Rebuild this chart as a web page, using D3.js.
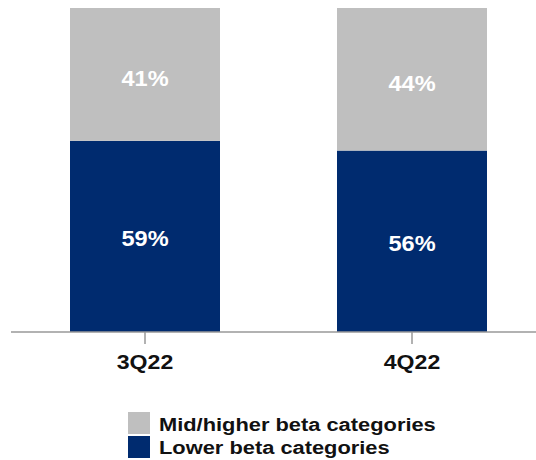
<!DOCTYPE html>
<html>
<head>
<meta charset="UTF-8">
<script src="https://d3js.org/d3.v7.min.js"></script>
<style>
  body { margin: 0; background: #fff; font-family: "Liberation Sans", Arial, sans-serif; }
</style>
</head>
<body>
<svg width="536" height="460"></svg>
<script>
const quarters = ["3Q22", "4Q22"];
const lowerBeta = [59, 56];
const midHigherBeta = [41, 44];
const seriesNames = ["Mid/higher beta categories", "Lower beta categories"];
const colors = { lower: "#002b6f", mid: "#bfbfbf" };

const svg = d3.select("svg");
const x = d3.scalePoint().domain(quarters).range([145, 412]);
const y = d3.scaleLinear().domain([0, 100]).range([332, 8]);
const barW = 150;

// text is a little wider than the font height suggests, so stretch it
function place(sel, tx, ty, sx) {
  return sel.attr("transform", `translate(${tx},${ty}) scale(${sx},1)`);
}

const data = quarters.map((q, i) => ({ q, lower: lowerBeta[i], mid: midHigherBeta[i] }));
const stack = d3.stack().keys(["lower", "mid"])(data);

const g = svg.append("g");
stack.forEach(layer => {
  g.selectAll(null).data(layer).enter().append("rect")
    .attr("x", d => x(d.data.q) - barW / 2)
    .attr("y", d => y(d[1]))
    .attr("width", barW)
    .attr("height", d => y(d[0]) - y(d[1]))
    .attr("fill", colors[layer.key]);
  g.selectAll(null).data(layer).enter().append("text")
    .attr("transform", d => `translate(${x(d.data.q)},${(y(d[0]) + y(d[1])) / 2 + (layer.key === "mid" ? 4 : 2)}) scale(1.07,1)`)
    .attr("dy", "0.35em")
    .attr("text-anchor", "middle")
    .attr("fill", "#fff")
    .attr("font-weight", "bold")
    .attr("font-size", 22)
    .text(d => (d[1] - d[0]) + "%");
});

// axis
svg.append("line").attr("x1", 11).attr("x2", 536).attr("y1", 332).attr("y2", 332)
  .attr("stroke", "#999").attr("stroke-width", 1.5);
const ax = svg.append("g");
quarters.forEach(q => {
  ax.append("line").attr("x1", x(q)).attr("x2", x(q)).attr("y1", 332).attr("y2", 344)
    .attr("stroke", "#999").attr("stroke-width", 1.5);
  place(ax.append("text"), x(q), 362, 1.1).attr("dy", "0.35em")
    .attr("text-anchor", "middle").attr("font-weight", "bold").attr("font-size", 21)
    .attr("fill", "#111").text(q);
});

// legend
const leg = svg.append("g");
const legColors = [colors.mid, colors.lower];
seriesNames.forEach((name, i) => {
  leg.append("rect").attr("x", 128).attr("y", 412 + i * 24).attr("width", 22).attr("height", 22)
    .attr("fill", legColors[i]);
  place(leg.append("text"), 159, 424 + i * 23.5, 1.15).attr("dy", "0.35em")
    .attr("font-weight", "bold").attr("font-size", 19).attr("fill", "#111").text(name);
});
</script>
</body>
</html>
